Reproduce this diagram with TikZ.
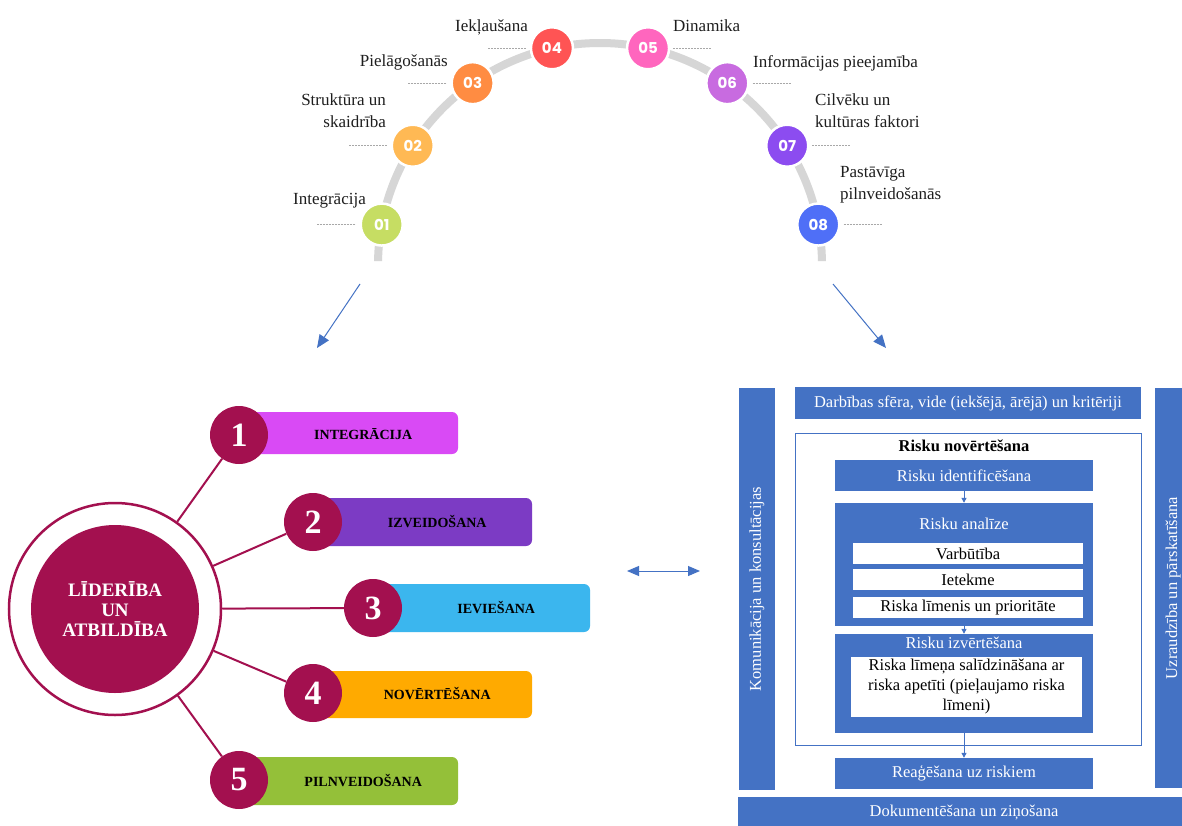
\documentclass[tikz,border=0pt]{standalone}
\usepackage{fontspec}
\setmainfont{Liberation Serif}
\newfontfamily\popfont{Poppins}
\usetikzlibrary{arrows.meta,calc}
\definecolor{arcgray}{HTML}{D6D6D6}
\definecolor{dashgray}{HTML}{A8A8A8}
\definecolor{labelcol}{HTML}{1E1E1E}
\definecolor{cA}{HTML}{C6DD63}
\definecolor{cB}{HTML}{FFB954}
\definecolor{cC}{HTML}{FF8C42}
\definecolor{cD}{HTML}{FF5454}
\definecolor{cE}{HTML}{FF66BE}
\definecolor{cF}{HTML}{C86BE0}
\definecolor{cG}{HTML}{8C4CF0}
\definecolor{cH}{HTML}{4F6FF7}
\definecolor{maroonc}{HTML}{A3104F}
\definecolor{barA}{HTML}{D94AF5}
\definecolor{barB}{HTML}{7C3BC4}
\definecolor{barC}{HTML}{3BB6EE}
\definecolor{barD}{HTML}{FFAA00}
\definecolor{barE}{HTML}{94C039}
\definecolor{bluebox}{HTML}{4472C4}
\begin{document}
\begin{tikzpicture}[x=1pt,y=-1pt,
 topnum/.style={circle,minimum size=42pt,inner sep=0pt,draw=white,line width=2.5pt,text=white,font=\popfont\bfseries\fontsize{15}{15}\selectfont},
 toplab/.style={inner sep=0pt,text depth=0pt,text=labelcol,font=\fontsize{17}{22}\selectfont},
 dashmark/.style={draw=dashgray,line width=0.6pt,dash pattern=on 2pt off 1pt},
 bigarrow/.style={draw=bluebox,line width=1pt,-{Triangle[length=13pt,width=11pt]}},
 numcirc/.style={circle,fill=maroonc,minimum size=58pt,inner sep=0pt,text=white,font=\bfseries\fontsize{34}{34}\selectfont},
 bar/.style={rectangle,rounded corners=6pt,inner sep=0pt},
 bartext/.style={inner sep=0pt,text=black,font=\bfseries\fontsize{14}{14}\selectfont},
 conn/.style={draw=maroonc,line width=2pt},
 bbox/.style={rectangle,fill=bluebox,inner sep=0pt,text=white,font=\fontsize{16.5}{20}\selectfont},
 wbox/.style={rectangle,fill=white,inner sep=0pt,text=black,font=\fontsize{16.5}{20}\selectfont},
 smallarrow/.style={draw=bluebox,line width=1pt,-{Triangle[length=5pt,width=5pt]}},
]
\useasboundingbox (0,0) rectangle (1182,826);
\fill[white] (0,0) rectangle (1182,826);

% ---------- top arc ----------
\coordinate (arcC) at (600,265);
\draw[arcgray,line width=8pt] ($(arcC)+(181:222)$) arc[start angle=181,end angle=359,radius=222];
\foreach \i/\ang/\col in {1/190.5/cA,2/212.5/cB,3/235/cC,4/257.5/cD,5/282.5/cE,6/305/cF,7/327.5/cG,8/349.5/cH}
  \node[topnum,fill=\col] (t\i) at ($(arcC)+(\ang:222)$) {0\i};
\foreach \i in {1,...,4} \draw[dashmark] ([xshift=-4pt]t\i.west) -- ++(-38,0);
\foreach \i in {5,...,8} \draw[dashmark] ([xshift=3pt]t\i.east) -- ++(38,0);

\node[toplab,anchor=south east] (l1) at (366,205) {Integrācija};
\node[toplab,anchor=south east,align=right] (l2) at (386,128) {Struktūra un\\skaidrība};
\node[toplab,anchor=south east] (l3) at (448,67) {Pielāgošanās};
\node[toplab,anchor=south east] (l4) at (528,32) {Iekļaušana};
\node[toplab,anchor=south west] (l5) at (673,32) {Dinamika};
\node[toplab,anchor=south west] (l6) at (753,68) {Informācijas pieejamība};
\node[toplab,anchor=south west,align=left] (l7) at (815,128) {Cilvēku un\\kultūras faktori};
\node[toplab,anchor=south west,align=left] (l8) at (840,200) {Pastāvīga\\pilnveidošanās};

% ---------- arrows ----------
\coordinate (a1s) at (360,284); \coordinate (a1e) at (317,348);
\coordinate (a2s) at (833,284); \coordinate (a2e) at (886,348);
\draw[bigarrow] (a1s) -- (a1e);
\draw[bigarrow] (a2s) -- (a2e);
\coordinate (m1) at (627,571); \coordinate (m2) at (700,571);
\draw[draw=bluebox,line width=1pt,{Triangle[length=12pt,width=10pt]}-{Triangle[length=12pt,width=10pt]}] (m1) -- (m2);

% ---------- left diagram ----------
\node[bar,fill=barA,minimum width=219pt,minimum height=42pt] (b1) at (348.5,433) {};
\node[bar,fill=barB,minimum width=219pt,minimum height=48pt] (b2) at (422.5,522) {};
\node[bar,fill=barC,minimum width=217pt,minimum height=48pt] (b3) at (481.5,608) {};
\node[bar,fill=barD,minimum width=219pt,minimum height=47pt] (b4) at (422.5,694.5) {};
\node[bar,fill=barE,minimum width=219pt,minimum height=48pt] (b5) at (348.5,781) {};

\node[circle,draw=maroonc,line width=2.5pt,fill=white,minimum size=212pt,inner sep=0pt] (lead) at (115,609) {};
\node[circle,fill=maroonc,minimum size=168pt,inner sep=0pt,text=white,align=center,font=\bfseries\fontsize{19}{20}\selectfont] (leadin) at (115,609) {LĪDERĪBA\\UN\\ATBILDĪBA};

\node[numcirc] (n1) at (239,435) {1};
\node[numcirc] (n2) at (313,522) {2};
\node[numcirc] (n3) at (373,608) {3};
\node[numcirc] (n4) at (313,693) {4};
\node[numcirc] (n5) at (239,780) {5};
\foreach \i in {1,...,5} \draw[conn] (lead) -- (n\i);

\node[bartext] at ($(n1.east)!0.5!(b1.east)$) {INTEGRĀCIJA};
\node[bartext] at ($(n2.east)!0.5!(b2.east)$) {IZVEIDOŠANA};
\node[bartext] at ($(n3.east)!0.5!(b3.east)$) {IEVIEŠANA};
\node[bartext] at ($(n4.east)!0.5!(b4.east)$) {NOVĒRTĒŠANA};
\node[bartext] at ($(n5.east)!0.5!(b5.east)$) {PILNVEIDOŠANA};

% ---------- right diagram ----------
\node[bbox,rotate=90,minimum width=402pt,minimum height=36pt] (kom) at (757,589) {Komunikācija un konsultācijas};
\node[bbox,rotate=90,minimum width=400pt,minimum height=36pt] (uzr) at (1173,588) {Uzraudzība un pārskatīšana};
\node[bbox,minimum width=346pt,minimum height=32pt] (darb) at (968,403) {Darbības sfēra, vide (iekšējā, ārējā) un kritēriji};
\node[draw=bluebox,line width=0.8pt,minimum width=346pt,minimum height=312pt,inner sep=0pt] (frame) at (968,589) {};
\node[inner sep=0pt,font=\bfseries\fontsize{16.5}{20}\selectfont] (rtitle) at (964,446) {Risku novērtēšana};
\node[bbox,minimum width=258pt,minimum height=31pt] (ident) at (964,475.5) {Risku identificēšana};
\node[bbox,minimum width=258pt,minimum height=123pt] (anal) at (964,564.5) {};
\node[inner sep=0pt,text=white,font=\fontsize{16.5}{20}\selectfont] (analt) at (964,524) {Risku analīze};
\node[wbox,minimum width=230pt,minimum height=21pt] (varb) at (968,553.5) {Varbūtība};
\node[wbox,minimum width=230pt,minimum height=21pt] (ietek) at (968,579.5) {Ietekme};
\node[wbox,minimum width=230pt,minimum height=21pt] (lim) at (968,607.5) {Riska līmenis un prioritāte};
\node[bbox,minimum width=258pt,minimum height=99pt] (izv) at (964,683.5) {};
\node[inner sep=0pt,text=white,font=\fontsize{16.5}{20}\selectfont] (izvt) at (964,643) {Risku izvērtēšana};
\node[wbox,minimum width=231pt,minimum height=60pt,align=center] (salidz) at (966.5,687) {Riska līmeņa salīdzināšana ar\\riska apetīti (pieļaujamo riska\\līmeni)};
\node[bbox,minimum width=258pt,minimum height=31pt] (reag) at (964,773.5) {Reaģēšana uz riskiem};
\node[bbox,minimum width=452pt,minimum height=32pt] (dok) at (964,813) {Dokumentēšana un ziņošana};

\draw[smallarrow] (ident) -- (anal);
\draw[smallarrow] (anal) -- (izv);
\draw[smallarrow] (izv) -- (reag);
\end{tikzpicture}
\end{document}
